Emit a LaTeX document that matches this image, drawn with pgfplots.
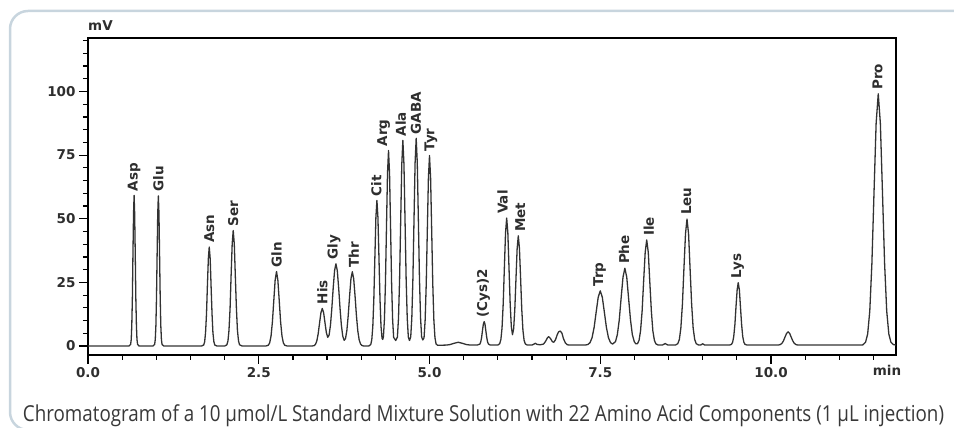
\documentclass[border=0pt]{standalone}
\usepackage{fontspec}
\setmainfont{DejaVu Sans}
\newfontfamily\capfont{Open Sans}
\usepackage{graphicx}
\usepackage{pgfplots}
\pgfplotsset{compat=1.18}
\definecolor{framecol}{RGB}{200,213,222}
\definecolor{trace}{RGB}{50,50,50}
\tikzset{lbl/.style={rotate=90, anchor=west, inner xsep=4pt, inner ysep=0pt,
        font=\fontsize{13.5}{15}\selectfont\bfseries, text=black!82}}

\begin{document}
\begin{tikzpicture}[x=1pt,y=1pt]
\useasboundingbox (0,0) rectangle (954,428);
\draw[framecol, line width=2.5pt, rounded corners=18pt] (10,-2) rectangle (1000,417);
\begin{axis}[
    scale only axis,
    width=808pt, height=317pt,
    at={(88pt,73pt)}, anchor=south west,
    xmin=0, xmax=11.83,
    ymin=-3.5, ymax=121,
    axis line style={line width=1.4pt, black},
    tick align=outside,
    xtick pos=bottom, ytick pos=left,
    xtick={0,2.5,5,7.5,10},
    xticklabels={0.0,2.5,5.0,7.5,10.0},
    minor xtick={0.5,1,...,11.5},
    ytick={0,25,50,75,100},
    minor ytick={5,10,...,120},
    major tick length=9pt,
    minor tick length=5pt,
    every tick/.append style={black, line width=1.2pt},
    /pgf/number format/assume math mode=true,
    tick label style={font=\fontsize{13.5}{16}\selectfont\bfseries, text=black!82},
]
\addplot[trace, line width=1.3pt, line join=round] coordinates {
(0,0) (0.60,0)
(0.624,0.66) (0.633,2.60) (0.641,8.01) (0.650,19.22) (0.658,35.90) (0.667,52.24) (0.675,59.2) (0.683,52.24) (0.692,35.90) (0.700,19.22) (0.709,8.01) (0.717,2.60) (0.726,0.66) (0.75,0)
(0.95,0)
(0.976,0.65) (0.985,2.59) (0.994,7.98) (1.003,19.16) (1.012,35.78) (1.021,52.07) (1.030,59.0) (1.039,52.07) (1.048,35.78) (1.057,19.16) (1.066,7.98) (1.075,2.59) (1.084,0.65) (1.11,0)
(1.66,0)
(1.694,0.43) (1.708,1.71) (1.721,5.26) (1.735,12.63) (1.748,23.59) (1.762,34.33) (1.775,38.9) (1.789,34.33) (1.802,23.59) (1.816,12.63) (1.829,5.26) (1.843,1.71) (1.856,0.43) (1.89,0)
(2.00,0)
(2.033,0.50) (2.049,1.99) (2.064,6.14) (2.080,14.74) (2.095,27.54) (2.111,40.07) (2.126,45.4) (2.142,40.07) (2.157,27.54) (2.173,14.74) (2.188,6.14) (2.204,1.99) (2.219,0.50) (2.26,0)
(2.60,0)
(2.640,0.33) (2.660,1.29) (2.680,3.96) (2.700,9.51) (2.720,17.77) (2.740,25.86) (2.760,29.3) (2.780,25.86) (2.800,17.77) (2.820,9.51) (2.840,3.96) (2.860,1.29) (2.880,0.33) (2.92,0)
(3.27,0)
(3.31,0.16) (3.33,0.65) (3.35,2.00) (3.37,4.81) (3.39,8.98) (3.41,13.06) (3.43,14.8) (3.45,13.09) (3.47,9.11) (3.49,5.27) (3.51,3.42) (3.53,4.33) (3.55,8.22) (3.57,14.82) (3.59,22.82) (3.61,29.62) (3.63,32.3) (3.65,29.62) (3.67,22.82) (3.69,14.80) (3.71,8.11) (3.73,3.91) (3.75,2.26) (3.77,2.93) (3.79,6.14) (3.81,12.03) (3.83,19.67) (3.85,26.45) (3.87,29.2) (3.89,26.45) (3.91,19.67) (3.93,12.0) (3.95,6.01) (3.97,2.47) (3.99,0.84) (4.01,0.23) (4.04,0)
(4.11,0)
(4.140,0.63) (4.155,2.51) (4.170,7.74) (4.185,18.57) (4.200,34.69) (4.215,50.48) (4.230,57.2) (4.245,50.48) (4.260,34.69) (4.275,18.57) (4.290,7.74) (4.305,3.10) (4.315,2.6)
(4.325,3.6) (4.340,10.39) (4.355,24.94) (4.370,46.58) (4.385,67.78) (4.400,76.8) (4.415,67.78) (4.430,46.58) (4.445,24.94) (4.460,10.39) (4.475,3.40) (4.505,2.2)
(4.530,3.55) (4.546,10.93) (4.562,26.24) (4.578,49.01) (4.594,71.31) (4.610,80.8) (4.626,71.31) (4.642,49.01) (4.658,26.24) (4.674,10.93) (4.690,3.55) (4.707,2.2)
(4.725,3.58) (4.741,11.04) (4.757,26.50) (4.773,49.49) (4.789,72.01) (4.805,81.6) (4.821,72.01) (4.837,49.49) (4.853,26.50) (4.869,11.04) (4.885,3.58) (4.902,2.4)
(4.920,3.28) (4.936,10.12) (4.952,24.29) (4.968,45.37) (4.984,66.01) (5.000,74.8) (5.016,66.01) (5.032,45.37) (5.048,24.29) (5.064,10.12) (5.080,3.28) (5.096,0.83) (5.12,0.3)
(5.25,0.4) (5.30,0.6) (5.36,1.1) (5.42,1.5) (5.48,1.1) (5.54,0.6) (5.60,0.4)
(5.70,0.4)
(5.738,0.80) (5.750,1.64) (5.763,3.39) (5.775,5.98) (5.788,8.52) (5.800,9.6) (5.813,8.52) (5.825,5.98) (5.838,3.39) (5.850,1.64) (5.863,0.80) (5.89,0.4)
(6.00,0.4)
(6.028,0.95) (6.045,2.59) (6.062,7.15) (6.079,16.60) (6.096,30.66) (6.113,44.44) (6.130,50.3) (6.147,44.44) (6.164,30.66) (6.181,16.69) (6.198,7.63) (6.215,4.47) (6.232,6.75) (6.249,14.44) (6.266,26.42) (6.283,38.26) (6.300,43.3) (6.317,38.26) (6.334,26.42) (6.351,14.33) (6.368,6.20) (6.385,2.28) (6.402,0.88) (6.43,0.4)
(6.50,0.4) (6.53,0.8) (6.55,1.1) (6.57,0.7) (6.62,0.5) (6.67,0.8) (6.70,1.9) (6.725,3.2) (6.745,3.7) (6.77,3.0) (6.80,1.7) (6.82,1.5) (6.845,2.5) (6.87,4.5) (6.89,5.6) (6.915,5.9) (6.94,5.0) (6.96,3.0) (6.99,1.2) (7.02,0.5) (7.06,0.4)
(7.28,0.4)
(7.32,0.64) (7.35,1.34) (7.38,3.28) (7.41,7.32) (7.44,13.32) (7.47,19.20) (7.50,21.7) (7.53,19.20) (7.56,13.32) (7.59,7.32) (7.62,3.28) (7.65,1.36) (7.68,0.78)
(7.723,1.75) (7.750,4.49) (7.778,10.21) (7.805,18.72) (7.833,27.05) (7.860,30.6) (7.888,27.05) (7.915,18.72) (7.943,10.21) (7.970,4.49) (7.998,1.74) (8.02,0.91) (8.045,0.97)
(8.068,2.23) (8.090,5.99) (8.113,13.81) (8.135,25.45) (8.158,36.85) (8.180,41.7) (8.203,36.85) (8.225,25.45) (8.248,13.81) (8.270,5.99) (8.293,2.21) (8.315,0.86) (8.35,0.4)
(8.41,0.4) (8.45,1.0) (8.49,0.4)
(8.60,0.4)
(8.635,0.95) (8.658,2.57) (8.680,7.10) (8.703,16.47) (8.725,30.42) (8.748,44.08) (8.770,49.9) (8.793,44.08) (8.815,30.42) (8.838,16.47) (8.860,7.10) (8.883,2.57) (8.905,0.95) (8.94,0.4)
(8.97,0.4) (9.0,0.9) (9.03,0.4)
(9.39,0.4)
(9.421,0.67) (9.438,1.48) (9.454,3.71) (9.471,8.36) (9.487,15.26) (9.504,22.02) (9.520,24.9) (9.537,22.02) (9.553,15.26) (9.570,8.36) (9.586,3.71) (9.603,1.48) (9.619,0.67) (9.65,0.4)
(10.08,0.4)
(10.115,0.46) (10.138,0.63) (10.160,1.10) (10.183,2.09) (10.205,3.55) (10.228,4.99) (10.250,5.6) (10.273,4.99) (10.295,3.55) (10.318,2.09) (10.340,1.10) (10.363,0.63) (10.385,0.46) (10.42,0.4)
(11.34,0.4)
(11.384,1.50) (11.415,4.73) (11.446,13.75) (11.477,32.45) (11.508,60.26) (11.539,87.50) (11.570,99.1) (11.601,87.50) (11.632,60.26) (11.663,32.45) (11.694,13.75) (11.725,4.73) (11.756,1.50) (11.79,0.6) (11.83,0.4)
};
% peak names
\node[lbl] at (axis cs:0.675,59.2) {Asp};
\node[lbl] at (axis cs:1.03,59.0) {Glu};
\node[lbl] at (axis cs:1.775,38.9) {Asn};
\node[lbl] at (axis cs:2.126,45.4) {Ser};
\node[lbl] at (axis cs:2.76,29.3) {Gln};
\node[lbl] at (axis cs:3.43,14.8) {His};
\node[lbl] at (axis cs:3.60,32.3) {Gly};
\node[lbl] at (axis cs:3.89,29.2) {Thr};
\node[lbl] at (axis cs:4.22,57.2) {Cit};
\node[lbl] at (axis cs:4.33,76.8) {Arg};
\node[lbl] at (axis cs:4.58,80.8) {Ala};
\node[lbl] at (axis cs:4.80,81.6) {GABA};
\node[lbl] at (axis cs:5.02,74.8) {Tyr};
\node[lbl] at (axis cs:5.79,9.6) {(Cys)2};
\node[lbl] at (axis cs:6.07,50.3) {Val};
\node[lbl] at (axis cs:6.33,43.3) {Met};
\node[lbl] at (axis cs:7.49,21.7) {Trp};
\node[lbl] at (axis cs:7.85,30.6) {Phe};
\node[lbl] at (axis cs:8.21,41.7) {Ile};
\node[lbl] at (axis cs:8.76,49.9) {Leu};
\node[lbl] at (axis cs:9.51,24.9) {Lys};
\node[lbl] at (axis cs:11.56,99.1) {Pro};
\end{axis}
\node[anchor=base west, inner sep=0pt, font=\fontsize{13.5}{16}\selectfont\bfseries, text=black!82] at (88,397) {mV};
\node[anchor=base, inner sep=0pt, font=\fontsize{13.5}{16}\selectfont\bfseries, text=black!82] at (887,52) {min};
\node[anchor=base, inner sep=0pt, text=black!78] at (483.5,6.5)
  {\resizebox{921pt}{\height}{\capfont\fontsize{22}{26}\selectfont Chromatogram of a 10 µmol/L Standard Mixture Solution with 22 Amino Acid Components (1 µL injection)}};
\end{tikzpicture}
\end{document}
